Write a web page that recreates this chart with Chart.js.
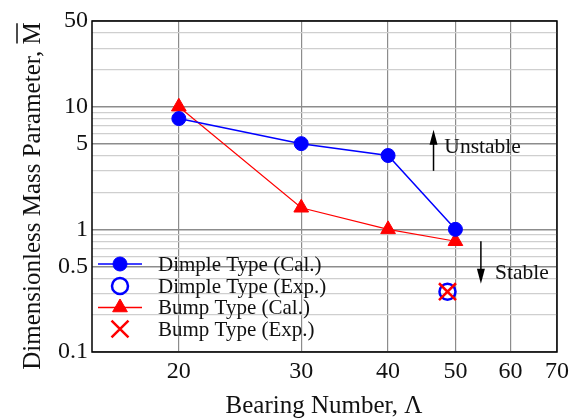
<!DOCTYPE html>
<html><head><meta charset="utf-8">
<script src="https://cdn.jsdelivr.net/npm/chart.js@4/dist/chart.umd.min.js"></script>
<style>html,body{margin:0;padding:0;background:#fff}</style>
</head><body>
<canvas id="c" width="587" height="419"></canvas>
<script>
// ---- data ----
const lambdaCal = [20, 30, 40, 50];
const dimpleCal = [8, 5, 4, 1];
const bumpCal = [10, 1.5, 1, 0.8];
const lambdaExp = [48.7];
const dimpleExp = [0.31];
const bumpExp = [0.31];
const xTicks = [20, 30, 40, 50, 60, 70];
const yTicks = [0.1,0.2,0.3,0.4,0.5,0.6,0.7,0.8,0.9,1,2,3,4,5,6,7,8,9,10,20,30,40,50];
const yLabelValues = [0.1, 0.5, 1, 5, 10, 50];
const seriesNames = ['Dimple Type (Cal.)', 'Dimple Type (Exp.)', 'Bump Type (Cal.)', 'Bump Type (Exp.)'];
const xTitle = 'Bearing Number, \u039B';
const yTitle = 'Dimensionless Mass Parameter, ';
const yTitleSymbol = 'M';
const notes = ['Unstable', 'Stable'];

const SERIF = "'Liberation Serif', 'Times New Roman', serif";
const pts = (xs, ys) => xs.map((x, i) => ({x, y: ys[i]}));
const isMajor = v => yLabelValues.some(m => Math.abs(m - v) < 1e-9);

const overlay = {
  id: 'overlay',
  afterDraw(chart) {
    const ctx = chart.ctx, a = chart.chartArea;
    const xs = chart.scales.x, ys = chart.scales.y;
    ctx.save();
    // frame
    ctx.strokeStyle = '#000'; ctx.lineWidth = 1.5;
    ctx.strokeRect(a.left, a.top, a.right - a.left, a.bottom - a.top);

    // legend (inside plot, lower left)
    const ds = chart.data.datasets;
    const rowY = [264, 286, 307.5, 329];
    ds.forEach((d, i) => {
      const y = rowY[i];
      ctx.save();
      if (d.showLine) {
        ctx.strokeStyle = d.borderColor; ctx.lineWidth = 1.5;
        ctx.beginPath(); ctx.moveTo(98, y); ctx.lineTo(142, y); ctx.stroke();
      }
      ctx.fillStyle = d.pointBackgroundColor; ctx.strokeStyle = d.pointBorderColor;
      ctx.lineWidth = d.pointBorderWidth;
      Chart.helpers.drawPoint(ctx, {pointStyle: d.pointStyle, radius: d.pointRadius,
        borderWidth: d.pointBorderWidth, rotation: 0}, 120, y);
      ctx.restore();
      ctx.fillStyle = '#111'; ctx.font = '21px ' + SERIF;
      ctx.textAlign = 'left'; ctx.textBaseline = 'middle';
      ctx.fillText(d.label, 158, y + 1);
    });

    // annotations (arrows + text)
    const arrow = (xv, y0v, y1v) => {
      const x = xs.getPixelForValue(xv), y0 = ys.getPixelForValue(y0v), y1 = ys.getPixelForValue(y1v);
      const dir = Math.sign(y1 - y0);
      ctx.strokeStyle = '#000'; ctx.fillStyle = '#000'; ctx.lineWidth = 1.5;
      ctx.beginPath(); ctx.moveTo(x, y0); ctx.lineTo(x, y1 - dir * 12); ctx.stroke();
      ctx.beginPath(); ctx.moveTo(x, y1); ctx.lineTo(x - 4, y1 - dir * 15); ctx.lineTo(x + 4, y1 - dir * 15); ctx.closePath(); ctx.fill();
    };
    arrow(46.5, 3.0, 6.5);
    arrow(54.4, 0.8, 0.36);
    ctx.fillStyle = '#111'; ctx.font = '21.5px ' + SERIF; ctx.textAlign = 'left'; ctx.textBaseline = 'middle';
    ctx.fillText(notes[0], xs.getPixelForValue(48.2), ys.getPixelForValue(4.7));
    ctx.fillText(notes[1], xs.getPixelForValue(57), ys.getPixelForValue(0.44));

    // axis titles
    ctx.font = '25px ' + SERIF; ctx.textAlign = 'center'; ctx.textBaseline = 'alphabetic';
    ctx.fillText(xTitle, 324, 413);

    ctx.save();
    ctx.translate(40, 196);
    ctx.rotate(-Math.PI / 2);
    ctx.font = '25px ' + SERIF; ctx.textAlign = 'left';
    const full = yTitle + yTitleSymbol;
    const w = ctx.measureText(full).width, wp = ctx.measureText(yTitle).width;
    const wm = ctx.measureText(yTitleSymbol).width;
    const x0 = -w / 2;
    ctx.fillText(full, x0, 0);
    ctx.strokeStyle = '#111'; ctx.lineWidth = 1.5;
    ctx.beginPath(); ctx.moveTo(x0 + wp + 1, -23); ctx.lineTo(x0 + wp + wm - 1, -23); ctx.stroke();
    ctx.restore();

    ctx.restore();
  }
};

new Chart(document.getElementById('c'), {
  type: 'scatter',
  data: {
    datasets: [
      {label: seriesNames[0], data: pts(lambdaCal, dimpleCal), showLine: true, borderColor: '#0000ff', borderWidth: 1.5,
       pointStyle: 'circle', pointRadius: 7, pointBackgroundColor: '#0000ff', pointBorderColor: '#0000ff', pointBorderWidth: 1, order: 1},
      {label: seriesNames[1], data: pts(lambdaExp, dimpleExp), showLine: false, borderColor: '#0000ff',
       pointStyle: 'circle', pointRadius: 8, pointBackgroundColor: 'rgba(0,0,0,0)', pointBorderColor: '#0000ff', pointBorderWidth: 2.5, order: 3},
      {label: seriesNames[2], data: pts(lambdaCal, bumpCal), showLine: true, borderColor: '#ff0000', borderWidth: 1.2,
       pointStyle: 'triangle', pointRadius: 8.5, pointBackgroundColor: '#ff0000', pointBorderColor: '#ff0000', pointBorderWidth: 1, order: 2},
      {label: seriesNames[3], data: pts(lambdaExp, bumpExp), showLine: false, borderColor: '#ff0000',
       pointStyle: 'crossRot', pointRadius: 12, pointBackgroundColor: '#ff0000', pointBorderColor: '#ff0000', pointBorderWidth: 2.5, order: 0}
    ]
  },
  options: {
    responsive: false, animation: false,
    layout: {padding: {left: 0, top: 21, right: 30, bottom: 0}},
    plugins: {legend: {display: false}, tooltip: {enabled: false}},
    elements: {line: {tension: 0}},
    scales: {
      x: {
        type: 'logarithmic', min: 15, max: 70,
        afterBuildTicks: s => { s.ticks = xTicks.map(v => ({value: v})); },
        afterFit: s => { s.height = 67; },
        ticks: {autoSkip: false, maxRotation: 0, padding: 5, color: '#111',
                font: {family: SERIF, size: 24}, callback: v => String(v)},
        grid: {color: '#8c8c8c', lineWidth: 1.2, drawTicks: false},
        border: {display: false}
      },
      y: {
        type: 'logarithmic', min: 0.1, max: 50,
        afterBuildTicks: s => { s.ticks = yTicks.map(v => ({value: v})); },
        afterFit: s => { s.width = 92; },
        ticks: {autoSkip: false, padding: 4, color: '#111', font: {family: SERIF, size: 24},
                callback: v => isMajor(v) ? String(v) : ''},
        grid: {drawTicks: false,
               color: c => isMajor(c.tick.value) ? '#8c8c8c' : '#cfcfcf',
               lineWidth: c => isMajor(c.tick.value) ? 1.5 : 1.2},
        border: {display: false}
      }
    }
  },
  plugins: [overlay]
});
</script>
</body></html>
